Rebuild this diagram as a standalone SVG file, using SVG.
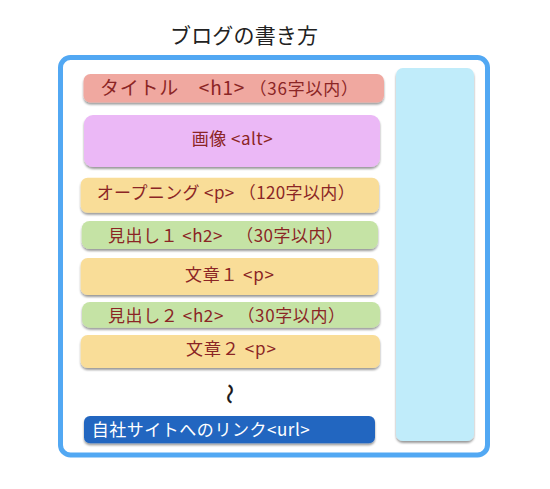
<svg xmlns="http://www.w3.org/2000/svg" width="550" height="489" viewBox="0 0 550 489">
<defs>
<filter id="sh" x="-10%" y="-20%" width="120%" height="160%">
<feDropShadow dx="0" dy="2" stdDeviation="1.2" flood-color="#000" flood-opacity="0.4"/>
</filter>
<style>
.t{font-family:"Noto Sans CJK JP","Noto Sans",sans-serif;font-size:17px;fill:#8b2525}
.box{filter:url(#sh)}
</style>
</defs>
<rect width="550" height="489" fill="#fff"/>
<text x="170" y="43" textLength="148" style="font-family:'Noto Sans CJK JP',sans-serif;font-size:21px;fill:#222">ブログの書き方</text>
<rect x="60.5" y="57.5" width="427" height="397.5" rx="10" fill="#fff" stroke="#52a8f3" stroke-width="5"/>
<g id="sidebar"><rect class="box" x="396" y="68" width="78" height="373" rx="7" fill="#c0ecfa"/></g>
<g id="title"><rect class="box" x="83.5" y="74" width="300.5" height="28.5" rx="7" fill="#f0a8a0"/>
<text class="t" x="100" y="95" textLength="258"><tspan font-size="19">タイトル　&lt;h1&gt;</tspan> （36字以内）</text></g>
<g id="image"><rect class="box" x="84" y="115" width="296" height="52" rx="9" fill="#ebb8f6"/>
<text class="t" x="191.7" y="144.5" textLength="81">画像 &lt;alt&gt;</text></g>
<g id="opening"><rect class="box" x="80.7" y="177.7" width="298.3" height="35" rx="7" fill="#f9dd98"/>
<text class="t" x="96.7" y="199" textLength="258">オープニング &lt;p&gt; （120字以内）</text></g>
<g id="h2-1"><rect class="box" x="81.7" y="221" width="296.3" height="28" rx="8" fill="#c5e3a5"/>
<text class="t" x="108" y="241.5" textLength="235">見出し１ &lt;h2&gt; 　（30字以内）</text></g>
<g id="body-1"><rect class="box" x="80.7" y="258" width="297.3" height="37" rx="7" fill="#f9dd98"/>
<text class="t" x="185" y="281" textLength="89">文章１ &lt;p&gt;</text></g>
<g id="h2-2"><rect class="box" x="82" y="302" width="298" height="25.7" rx="8" fill="#c5e3a5"/>
<text class="t" x="108" y="321.5" textLength="237">見出し２ &lt;h2&gt; 　（30字以内）</text></g>
<g id="body-2"><rect class="box" x="80.7" y="335" width="299.3" height="33" rx="7" fill="#f9dd98"/>
<text class="t" x="186" y="355" textLength="90">文章２ &lt;p&gt;</text></g>
<g id="wave"><text transform="translate(229 394) rotate(90)" x="0" y="0" dy="0.35em" style="font-family:'Noto Sans CJK JP',sans-serif;font-size:20px;fill:#111;stroke:#111;stroke-width:0.5" text-anchor="middle">〜</text></g>
<g id="link"><rect class="box" x="84" y="416" width="291" height="27.3" rx="6" fill="#2266c0"/>
<text x="91.7" y="436" textLength="218" style="font-family:'Noto Sans CJK JP',sans-serif;font-size:17px;fill:#fff">自社サイトへのリンク&lt;url&gt;</text></g>
</svg>
